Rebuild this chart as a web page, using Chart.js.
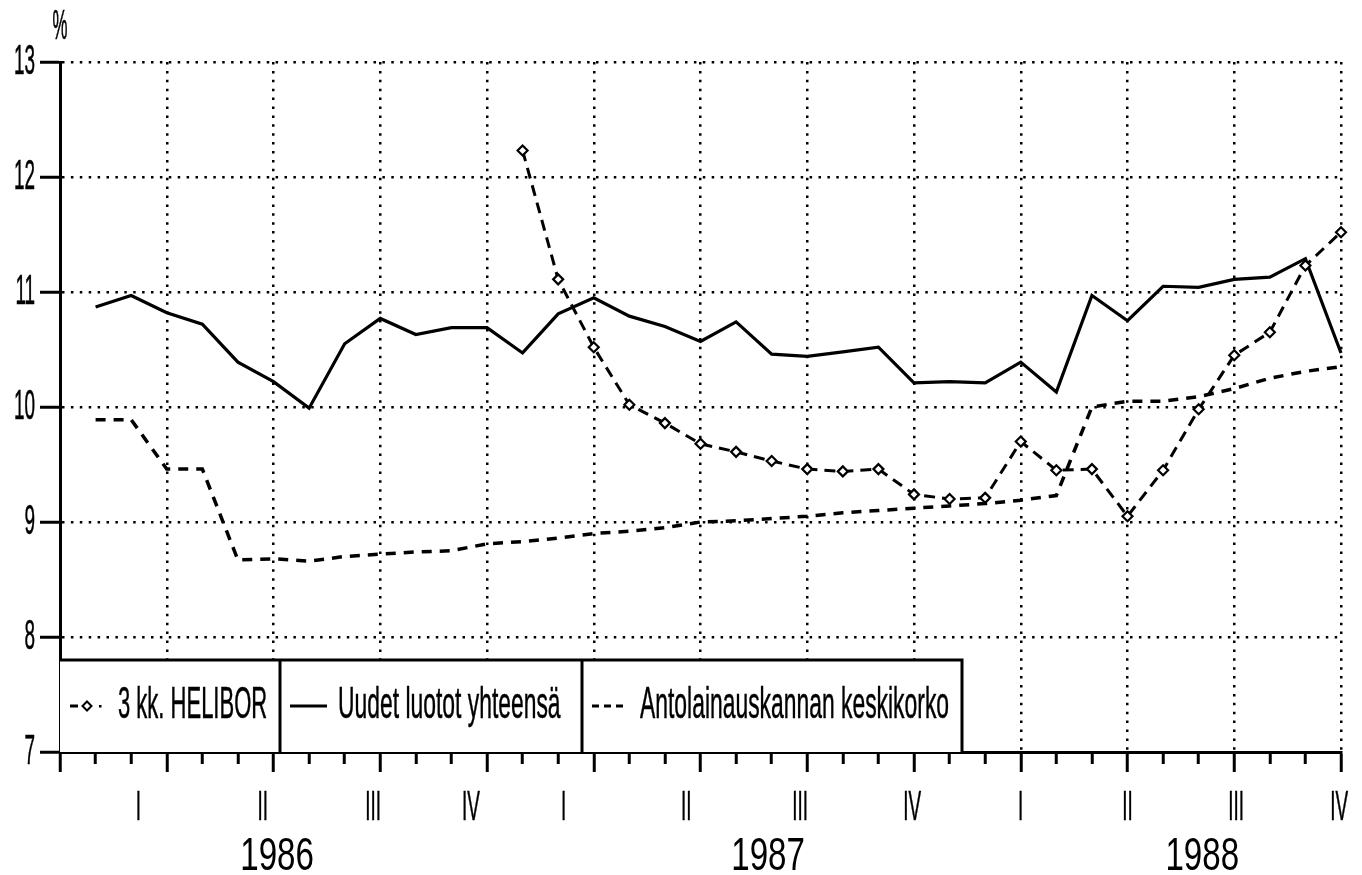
<!DOCTYPE html>
<html>
<head>
<meta charset="utf-8">
<script src="https://cdn.jsdelivr.net/npm/chart.js@4.4.0/dist/chart.umd.min.js"></script>
<style>
  html, body { margin: 0; padding: 0; background: #fff; }
  canvas { display: block; }
</style>
</head>
<body>
<canvas id="korot" width="1362" height="875"></canvas>
<script>
// kuukausi 1 = tammikuu 1986 ... 36 = joulukuu 1988
const kuukaudet = Array.from({ length: 36 }, (_, i) => i + 1);

const helibor = [
  null, null, null, null, null, null, null, null, null, null, null, null,
  12.23, 11.11, 10.52, 10.02, 9.86, 9.68, 9.61, 9.53, 9.46, 9.44, 9.46, 9.24,
  9.20, 9.21, 9.70, 9.45, 9.46, 9.05, 9.45, 9.98, 10.45, 10.65, 11.23, 11.52
];
const uudetLuotot = [
  10.87, 10.97, 10.82, 10.72, 10.39, 10.22, 9.99, 10.55, 10.77, 10.63, 10.69, 10.69,
  10.47, 10.81, 10.95, 10.79, 10.70, 10.57, 10.74, 10.46, 10.44, 10.48, 10.52, 10.21,
  10.22, 10.21, 10.39, 10.13, 10.97, 10.75, 11.05, 11.04, 11.11, 11.13, 11.29, 10.47
];
const antolainaus = [
  9.89, 9.89, 9.46, 9.46, 8.67, 8.68, 8.66, 8.70, 8.72, 8.74, 8.75, 8.81,
  8.83, 8.86, 8.90, 8.92, 8.95, 9.00, 9.01, 9.03, 9.05, 9.08, 9.10, 9.12,
  9.14, 9.16, 9.19, 9.23, 10.00, 10.05, 10.05, 10.09, 10.16, 10.25, 10.31, 10.35
];

// akselin tekstit (neljännekset ja vuodet), sijainti kuukausina
const neljannekset = ['I', 'II', 'III', 'IV', 'I', 'II', 'III', 'IV', 'I', 'II', 'III', 'IV'];
const neljannesKohta = [2.2, 5.7, 8.8, 11.55, 14.15, 17.6, 20.8, 23.95, 27, 30, 33.05, 35.95];
const vuodet = ['1986', '1987', '1988'];
const vuosiKohta = [6.1, 19.9, 32.1];

const FONT = '"Liberation Sans", Arial, sans-serif';

// kapea piirturifontti: vaakasuunnassa skaalattu teksti
function kapeaTeksti(ctx, text, x, y, size, sx, align, paksuus) {
  ctx.save();
  ctx.font = size + 'px ' + FONT;
  ctx.textBaseline = 'middle';
  ctx.textAlign = 'left';
  const w = ctx.measureText(text).width * sx;
  const left = align === 'right' ? x - w : align === 'center' ? x - w / 2 : x;
  ctx.translate(left, y);
  ctx.scale(sx, 1);
  ctx.fillStyle = '#000';
  ctx.fillText(text, 0, 0);
  if (paksuus) {
    ctx.strokeStyle = '#000';
    ctx.lineWidth = paksuus;
    ctx.strokeText(text, 0, 0);
  }
  ctx.restore();
}

const tekstit = {
  id: 'tekstit',
  afterDraw(chart) {
    const ctx = chart.ctx;
    const xs = chart.scales.x, ys = chart.scales.y;
    ys.ticks.forEach(t => {
      kapeaTeksti(ctx, String(t.value), 35, ys.getPixelForValue(t.value), 42, 0.45, 'right', 0.6);
    });
    kapeaTeksti(ctx, '%', chart.chartArea.left, 27, 42, 0.4, 'center', 0.6);
    neljannekset.forEach((l, i) => {
      kapeaTeksti(ctx, l, xs.getPixelForValue(neljannesKohta[i]), 808, 42, 0.45, 'center', 0.6);
    });
    vuodet.forEach((v, i) => {
      kapeaTeksti(ctx, v, xs.getPixelForValue(vuosiKohta[i]), 857, 46, 0.72, 'center', 0);
    });
  }
};

// laatikoitu selite kuva-alueen alareunassa
const selite = {
  id: 'selite',
  afterDraw(chart) {
    const ctx = chart.ctx;
    const { left, bottom } = chart.chartArea;
    const top = 660, right = 962;
    const rajat = [left, 280, 582, right];
    const cy = 706;
    const ds = chart.data.datasets;

    ctx.save();
    ctx.fillStyle = '#fff';
    ctx.fillRect(left, top, right - left, bottom - top);
    ctx.strokeStyle = '#000';
    ctx.lineWidth = 3;
    ctx.beginPath();
    ctx.moveTo(left, top);
    ctx.lineTo(right, top);
    ctx.lineTo(right, bottom);
    rajat.slice(1, 3).forEach(x => { ctx.moveTo(x, top); ctx.lineTo(x, bottom); });
    ctx.stroke();

    // 1: HELIBOR  -◇·
    ctx.beginPath();
    ctx.moveTo(70, cy); ctx.lineTo(78, cy);
    ctx.stroke();
    ctx.lineWidth = 2;
    ctx.beginPath();
    ctx.moveTo(87, cy - 4.5); ctx.lineTo(91.5, cy); ctx.lineTo(87, cy + 4.5); ctx.lineTo(82.5, cy); ctx.closePath();
    ctx.fillStyle = '#fff'; ctx.fill(); ctx.stroke();
    ctx.fillStyle = '#000';
    ctx.fillRect(99, cy - 1, 2.5, 2.5);
    kapeaTeksti(ctx, ds[0].label, 118, cy, 44, 0.5, 'left', 0.5);

    // 2: uudet luotot, yhtenäinen viiva
    ctx.lineWidth = 3;
    ctx.beginPath();
    ctx.moveTo(290, cy); ctx.lineTo(327, cy);
    ctx.stroke();
    kapeaTeksti(ctx, ds[1].label, 338, cy, 44, 0.52, 'left', 0.5);

    // 3: antolainauskanta, katkoviiva
    ctx.setLineDash([7, 5]);
    ctx.beginPath();
    ctx.moveTo(592, cy); ctx.lineTo(626, cy);
    ctx.stroke();
    ctx.setLineDash([]);
    kapeaTeksti(ctx, ds[2].label, 640, cy, 44, 0.52, 'left', 0.5);
    ctx.restore();
  }
};

const pisteet = arr => kuukaudet.map((m, i) => ({ x: m, y: arr[i] }));

new Chart(document.getElementById('korot').getContext('2d'), {
  type: 'line',
  data: {
    datasets: [
      {
        label: '3 kk. HELIBOR',
        data: pisteet(helibor),
        borderColor: '#000',
        borderWidth: 3,
        borderDash: [11, 7],
        pointStyle: 'rectRot',
        pointRadius: 5,
        pointBorderWidth: 2.2,
        pointBorderColor: '#000',
        pointBackgroundColor: '#fff',
        clip: false
      },
      {
        label: 'Uudet luotot yhteensä',
        data: pisteet(uudetLuotot),
        borderColor: '#000',
        borderWidth: 3.2,
        pointRadius: 0,
        clip: false
      },
      {
        label: 'Antolainauskannan keskikorko',
        data: pisteet(antolainaus),
        borderColor: '#000',
        borderWidth: 3.5,
        borderDash: [10, 8],
        pointRadius: 0,
        clip: false
      }
    ]
  },
  options: {
    responsive: false,
    animation: false,
    devicePixelRatio: 1,
    layout: { padding: { top: 62, right: 21, left: 0, bottom: 0 } },
    plugins: {
      legend: { display: false },
      tooltip: { enabled: false }
    },
    scales: {
      x: {
        type: 'linear',
        min: 0,
        max: 36,
        afterBuildTicks: s => { s.ticks = Array.from({ length: 37 }, (_, i) => ({ value: i })); },
        afterFit: s => { s.height = 123; },
        ticks: { display: false, autoSkip: false },
        grid: {
          color: c => (c.tick && c.tick.value % 3 === 0) ? '#000' : 'rgba(0,0,0,0)',
          lineWidth: 2.5,
          tickLength: 20,
          tickWidth: 3,
          tickColor: '#000',
          tickBorderDash: c => (c.tick && c.tick.value % 3 === 0) ? [] : [10, 40]
        },
        border: { display: true, color: '#000', width: 3, dash: [2.5, 6.4] }
      },
      y: {
        min: 7,
        max: 13,
        afterFit: s => { s.width = 60; },
        ticks: { display: false, stepSize: 1 },
        grid: {
          color: '#000',
          lineWidth: 2.5,
          tickLength: 20,
          tickWidth: 3,
          tickColor: '#000',
          tickBorderDash: []
        },
        border: { display: true, color: '#000', width: 3, dash: [2.5, 6.4] }
      }
    }
  },
  plugins: [tekstit, selite]
});
</script>
</body>
</html>
